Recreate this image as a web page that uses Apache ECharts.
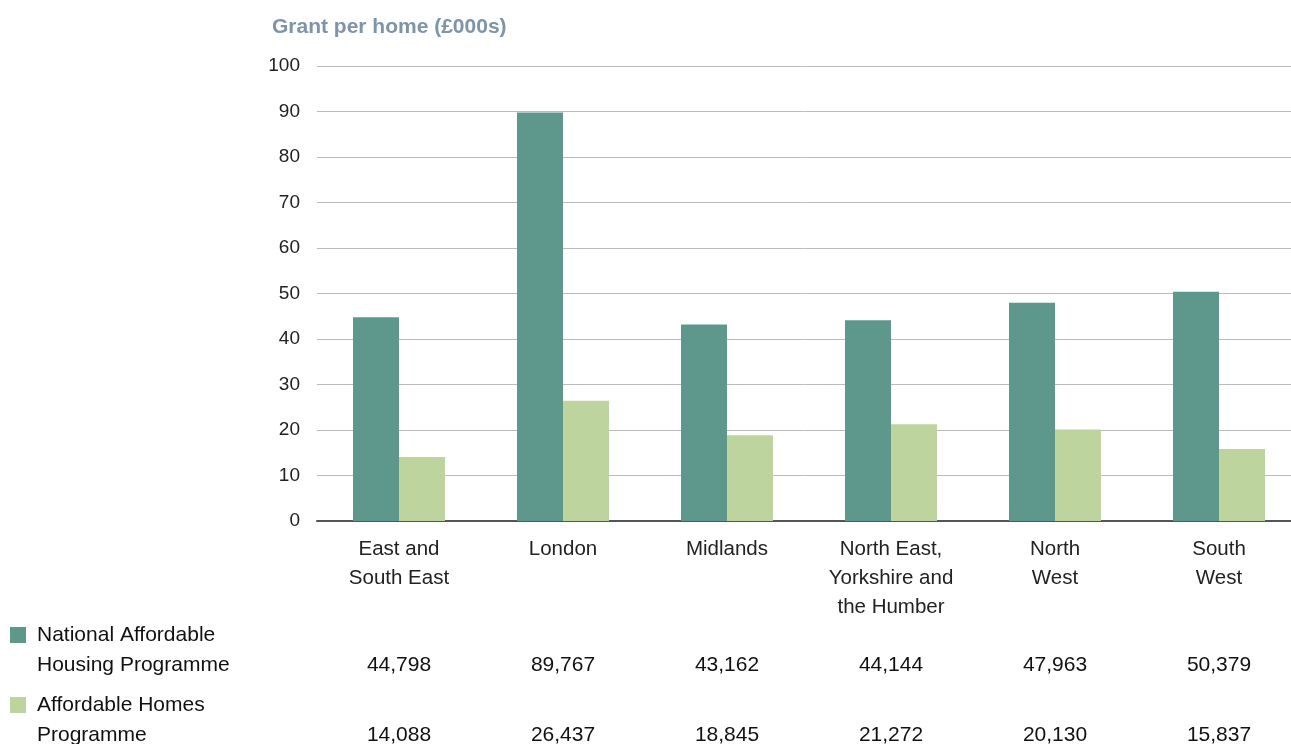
<!DOCTYPE html>
<html>
<head>
<meta charset="utf-8">
<script src="https://cdn.jsdelivr.net/npm/echarts@6/dist/echarts.min.js"></script>
<style>
  html, body { margin: 0; padding: 0; background: #fff; }
  #chart { width: 1291px; height: 744px; }
</style>
</head>
<body>
<div id="chart"></div>
<script>
// grant per home, in £ (chart plots £000s)
const regions = ['East and\nSouth East', 'London', 'Midlands', 'North East,\nYorkshire and\nthe Humber', 'North\nWest', 'South\nWest'];
const nahp = [44798, 89767, 43162, 44144, 47963, 50379];
const ahp = [14088, 26437, 18845, 21272, 20130, 15837];
const seriesNames = ['National Affordable\nHousing Programme', 'Affordable Homes\nProgramme'];
const yTicks = { min: 0, max: 100, interval: 10 };

const FONT = '"Liberation Sans", Arial, sans-serif';
const colors = ['#5e978b', '#bed49e'];

const chart = echarts.init(document.getElementById('chart'), null, { renderer: 'canvas' });

const toK = (v) => v / 1000;
const fmtNum = (v) => v.toLocaleString('en-GB');

chart.setOption({
  animation: false,
  backgroundColor: '#fff',
  textStyle: { fontFamily: FONT },
  title: {
    text: 'Grant per home (£000s)',
    left: 267, top: 12,
    textStyle: { color: '#7d94a9', fontSize: 21, fontWeight: 'bold', fontFamily: FONT },
  },
  // plot area runs a little past the right edge of the page, as in the source
  grid: { left: 317, width: 984, top: 66, bottom: 223, containLabel: false, outerBoundsMode: 'none' },
  xAxis: {
    type: 'category',
    data: regions,
    axisLine: { lineStyle: { color: '#555', width: 2 } },
    axisTick: { show: false },
    axisLabel: { color: '#222', fontSize: 20.5, lineHeight: 29, margin: 14, interval: 0, fontFamily: FONT },
  },
  yAxis: {
    type: 'value',
    min: yTicks.min, max: yTicks.max, interval: yTicks.interval,
    axisLine: { show: false },
    axisTick: { show: false },
    axisLabel: { color: '#222', fontSize: 19, margin: 17, fontFamily: FONT },
    splitLine: { lineStyle: { color: '#bbb', width: 1 } },
  },
  series: [
    { name: seriesNames[0], type: 'bar', data: nahp.map(toK), barWidth: 46, barGap: '0%', itemStyle: { color: colors[0] } },
    { name: seriesNames[1], type: 'bar', data: ahp.map(toK), barWidth: 46, itemStyle: { color: colors[1] } },
  ],
});

// data table under the chart, lined up with the category columns
function drawTable() {
  const els = [];
  const rows = [nahp, ahp];
  const rowTop = [627, 697];
  rows.forEach((vals, r) => {
    els.push({
      type: 'rect', left: 10, top: rowTop[r],
      shape: { width: 16, height: 16 },
      style: { fill: colors[r] },
    });
    els.push({
      type: 'text', left: 37, top: rowTop[r] - 7,
      style: { text: seriesNames[r], fill: '#111', font: '21px ' + FONT, lineHeight: 30 },
    });
    vals.forEach((v, i) => {
      const x = chart.convertToPixel({ xAxisIndex: 0 }, i);
      els.push({
        type: 'text', x: x, y: rowTop[r] + 38,
        style: { text: fmtNum(v), fill: '#111', font: '21px ' + FONT, align: 'center', verticalAlign: 'middle' },
      });
    });
  });
  chart.setOption({ graphic: els });
}
drawTable();
window.addEventListener('resize', () => { chart.resize(); drawTable(); });
</script>
</body>
</html>
